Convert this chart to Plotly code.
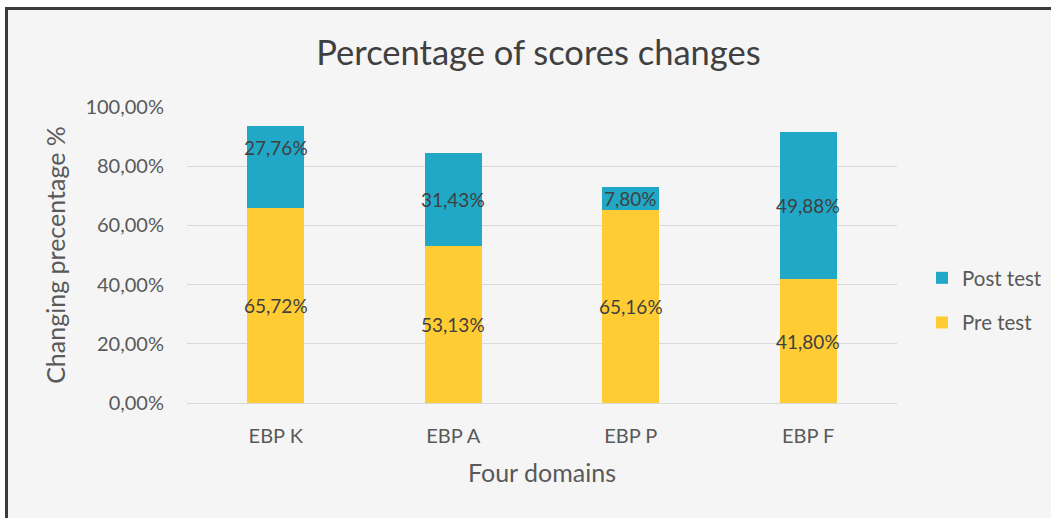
import plotly.graph_objects as go

categories = ["EBP K", "EBP A", "EBP P", "EBP F"]
pre_test = [65.72, 53.13, 65.16, 41.80]
post_test = [27.76, 31.43, 7.80, 49.88]
y_ticks = [0, 20, 40, 60, 80, 100]

# styling
W, H = 1059, 518
ML, MR, MT, MB = 187, 162, 107, 115
PW, PH = W - ML - MR, H - MT - MB
FONT = "Lato"
PRE_COLOR = "#FFCD33"
POST_COLOR = "#21A8C6"
LABEL_COLOR = "#404040"
TICK_COLOR = "#595959"
post_label_shift = [20, 0, 0, 0]  # pixel nudges of data labels
pre_label_shift = [0, 0, 0, 0]


def px_x(px):
    return (px - ML) / PW


def px_y(py):
    return (H - MB - py) / PH


def pct(v):
    return f"{v:.2f}%".replace(".", ",")


fig = go.Figure()
fig.add_trace(go.Bar(name="Pre test", x=categories, y=pre_test,
                     marker=dict(color=PRE_COLOR, line=dict(width=0)),
                     width=0.32, legendgroup="pre", legendrank=2, hoverinfo="skip"))
fig.add_trace(go.Bar(name="Post test", x=categories, y=post_test,
                     marker=dict(color=POST_COLOR, line=dict(width=0)),
                     width=0.32, legendgroup="post", legendrank=1, hoverinfo="skip"))

annotations = []
for i, c in enumerate(categories):
    annotations.append(dict(x=c, y=pre_test[i] / 2, xref="x", yref="y",
                            text=pct(pre_test[i]),
                            showarrow=False, yshift=pre_label_shift[i],
                            font=dict(family=FONT, size=19, color=LABEL_COLOR)))
    annotations.append(dict(x=c, y=pre_test[i] + post_test[i] / 2, xref="x", yref="y",
                            text=pct(post_test[i]),
                            showarrow=False, yshift=post_label_shift[i],
                            font=dict(family=FONT, size=19, color=LABEL_COLOR)))

shapes = [
    # white surround outside the chart frame
    dict(type="rect", xref="paper", yref="paper", x0=px_x(0), x1=px_x(5), y0=px_y(H), y1=px_y(0),
         fillcolor="white", line=dict(width=0), layer="above"),
    dict(type="rect", xref="paper", yref="paper", x0=px_x(0), x1=px_x(W), y0=px_y(7), y1=px_y(0),
         fillcolor="white", line=dict(width=0), layer="above"),
    dict(type="rect", xref="paper", yref="paper", x0=px_x(1051), x1=px_x(W), y0=px_y(H), y1=px_y(0),
         fillcolor="white", line=dict(width=0), layer="above"),
    # frame lines
    dict(type="line", xref="paper", yref="paper", x0=px_x(6.5), x1=px_x(6.5), y0=px_y(H), y1=px_y(7),
         line=dict(color="#3a3a3a", width=3), layer="above"),
    dict(type="line", xref="paper", yref="paper", x0=px_x(5), x1=px_x(1051), y0=px_y(8.5), y1=px_y(8.5),
         line=dict(color="#3a3a3a", width=3), layer="above"),
]

fig.update_layout(
    width=W, height=H,
    margin=dict(l=ML, r=MR, t=MT, b=MB, autoexpand=False),
    barmode="stack",
    separators=",.",
    paper_bgcolor="#F5F5F5",
    plot_bgcolor="#F5F5F5",
    font=dict(family=FONT, color=TICK_COLOR),
    title=dict(text="Percentage of scores changes", x=538.5 / W, xanchor="center",
               xref="container", y=1 - 53 / H, yanchor="middle",
               font=dict(family=FONT, size=34.5, color=LABEL_COLOR)),
    xaxis=dict(showgrid=False, showline=False, zeroline=False, ticks="",
               tickfont=dict(family=FONT, size=20, color=TICK_COLOR),
               ticklabelstandoff=19,
               title=dict(text="Four domains", standoff=18,
                          font=dict(family=FONT, size=25, color=TICK_COLOR))),
    yaxis=dict(range=[0, 100], tickvals=y_ticks, ticktext=[pct(v) for v in y_ticks],
               showgrid=True, gridcolor="#D9D9D9", gridwidth=1,
               zeroline=True, zerolinecolor="#D9D9D9", zerolinewidth=1,
               showline=False, ticks="", ticklabelstandoff=22,
               tickfont=dict(family=FONT, size=20, color=TICK_COLOR),
               title=dict(text="Changing precentage %", standoff=12,
                          font=dict(family=FONT, size=25, color=TICK_COLOR))),
    legend=dict(x=px_x(922), xanchor="left", y=px_y(258), yanchor="top",
                traceorder="grouped", tracegroupgap=15,
                bgcolor="rgba(0,0,0,0)",
                font=dict(family=FONT, size=20.5, color=TICK_COLOR)),
    annotations=annotations,
    shapes=shapes,
)

fig.write_html("out.html", config={"displayModeBar": False},
               post_script="document.body.style.margin='0';")
